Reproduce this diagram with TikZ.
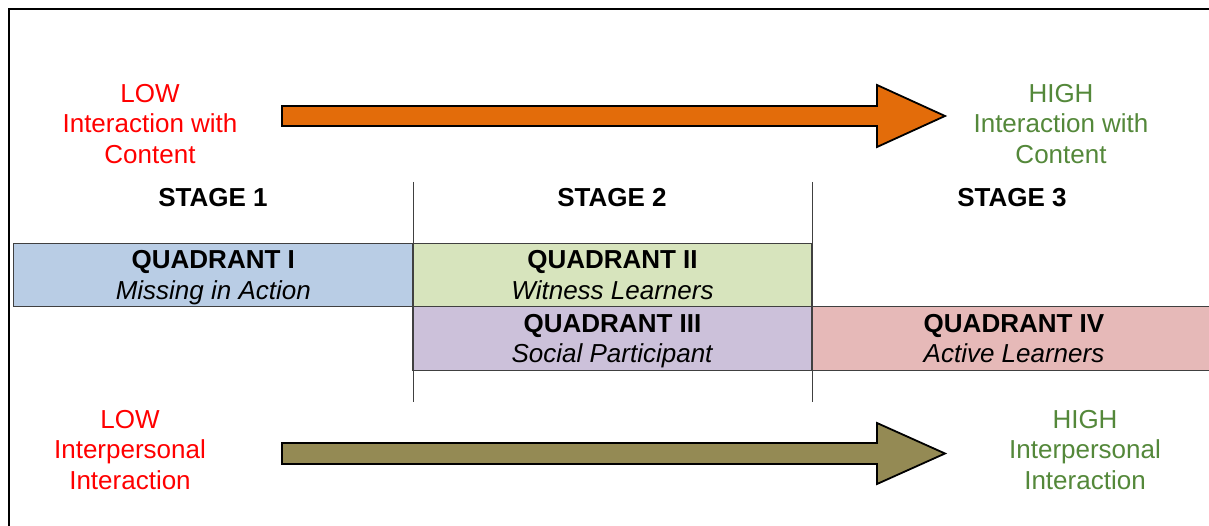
\documentclass[tikz,border=0pt]{standalone}
\usepackage{fontspec}
\setmainfont{Liberation Sans}
\definecolor{lowred}{RGB}{255,0,0}
\definecolor{highgreen}{RGB}{84,136,58}
\definecolor{contentorange}{RGB}{227,108,10}
\definecolor{peopleolive}{RGB}{148,138,84}
\definecolor{quadblue}{RGB}{185,205,229}
\definecolor{quadgreen}{RGB}{215,228,189}
\definecolor{quadpurple}{RGB}{204,193,218}
\definecolor{quadpink}{RGB}{230,185,184}
\definecolor{rulegray}{RGB}{64,64,64}
\begin{document}
\begin{tikzpicture}[x=1pt,y=-1pt,
  every node/.style={font=\fontsize{26}{30.5}\selectfont},
  endlabel/.style={anchor=north,inner sep=0pt,align=center},
  stagelabel/.style={inner sep=0pt,font=\fontsize{26}{30.5}\selectfont\bfseries},
  quadbox/.style={draw=rulegray,line width=1.2pt,minimum height=63.4pt,
    inner sep=0pt,align=center,text depth=0pt},
  blockarrow/.style={draw=black,line width=1.8pt,line join=miter},
  divider/.style={draw=rulegray,line width=1pt}]
\useasboundingbox (0,0) rectangle (1209,526);
\fill[white] (0,0) rectangle (1209,526);

% outer frame (left and top edges)
\draw[line width=2pt] (9,530) -- (9,9) -- (1215,9);

% stage dividers
\coordinate (d1top) at (413,182);
\coordinate (d1bot) at (413,402);
\coordinate (d2top) at (812,182);
\coordinate (d2bot) at (812,402);
\draw[divider] (d1top) -- (d1bot);
\draw[divider] (d2top) -- (d2bot);

% stage headings
\node[stagelabel] (s1) at (213,198) {STAGE 1};
\node[stagelabel] (s2) at (612,198) {STAGE 2};
\node[stagelabel] (s3) at (1012,198) {STAGE 3};

% quadrants
\node[quadbox,fill=quadblue,minimum width=399.5pt] (q1) at (213.3,275)
  {\textbf{QUADRANT I}\\\textit{Missing in Action}};
\node[quadbox,fill=quadgreen,minimum width=399pt] (q2) at (612.5,275)
  {\textbf{QUADRANT II}\\\textit{Witness Learners}};
\node[quadbox,fill=quadpurple,minimum width=399pt] (q3) at (612.5,338.4)
  {\textbf{QUADRANT III}\\\textit{Social Participant}};
\node[quadbox,fill=quadpink,minimum width=404pt] (q4) at (1014,338.4)
  {\textbf{QUADRANT IV}\\\textit{Active Learners}};

% interaction with content
\node[endlabel,text=lowred] (clow) at (150,84) {LOW\\Interaction with\\Content};
\node[endlabel,text=highgreen] (chigh) at (1061,84) {HIGH\\Interaction with\\Content};
\draw[blockarrow,fill=contentorange]
  (282,106) -- (877,106) -- (877,85) -- (945,116) -- (877,147) -- (877,126)
  -- (282,126) -- cycle;

% interpersonal interaction
\node[endlabel,text=lowred] (plow) at (130,410) {LOW\\Interpersonal\\Interaction};
\node[endlabel,text=highgreen] (phigh) at (1085,410) {HIGH\\Interpersonal\\Interaction};
\draw[blockarrow,fill=peopleolive]
  (282,443) -- (877,443) -- (877,423) -- (945,453.5) -- (877,484) -- (877,464)
  -- (282,464) -- cycle;
\end{tikzpicture}
\end{document}
